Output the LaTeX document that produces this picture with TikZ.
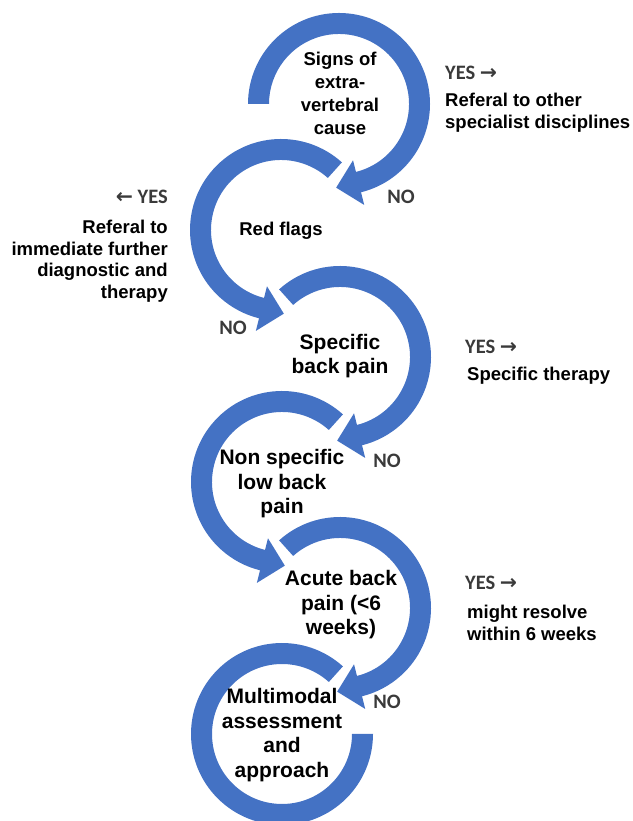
\documentclass[tikz,border=0pt]{standalone}
\usepackage{fontspec}
\setmainfont{Liberation Sans}
\newfontfamily\yesfont{Carlito}
\newfontfamily\arrowfont{DejaVu Sans}
\usetikzlibrary{calc}
\definecolor{ringblue}{HTML}{4472C4}
\definecolor{labelgray}{HTML}{3A3A3A}
% clockwise ring with arrowhead: center, start angle, end angle
\newcommand\cwring[3]{%
  \fill[ring] ($(#1)+(#2:91)$) arc[start angle=#2, end angle=#3, radius=91]
    -- ($(#1)+(#3:104)$) -- ($(#1)+(#3:80.5)+(#3-90:23)$) -- ($(#1)+(#3:58)$)
    -- ($(#1)+(#3:70)$) arc[start angle=#3, end angle=#2, radius=70] -- cycle;}
% counter-clockwise ring with arrowhead
\newcommand\ccwring[3]{%
  \fill[ring] ($(#1)+(#2:91)$) arc[start angle=#2, end angle=#3, radius=91]
    -- ($(#1)+(#3:104)$) -- ($(#1)+(#3:80.5)+(#3+90:23)$) -- ($(#1)+(#3:58)$)
    -- ($(#1)+(#3:70)$) arc[start angle=#3, end angle=#2, radius=70] -- cycle;}
\begin{document}
\begin{tikzpicture}[x=1pt,y=1pt,
  ring/.style={fill=ringblue},
  boxtext/.style={font=\bfseries\fontsize{18.5}{23}\selectfont, align=center, inner sep=0pt},
  bigtext/.style={font=\bfseries\fontsize{21}{24.5}\selectfont, align=center, inner sep=0pt},
  sidetext/.style={font=\bfseries\fontsize{18.5}{21.5}\selectfont, inner sep=0pt},
  yesno/.style={font=\yesfont\bfseries\fontsize{20.5}{22}\selectfont, text=labelgray, inner sep=0pt}]
\useasboundingbox (0,0) rectangle (632,821);
\coordinate (C1) at (339,717);
\coordinate (C2) at (281,591);
\coordinate (C3) at (340,464);
\coordinate (C4) at (282,339);
\coordinate (C5) at (340,213);
\coordinate (C6) at (282,87);
\cwring{C1}{180}{-76}
\ccwring{C2}{48}{256}
\cwring{C3}{132}{-76}
\ccwring{C4}{48}{256}
\cwring{C5}{132}{-76}
\fill[ring] ($(C6)+(48:91)$) arc[start angle=48, end angle=360, radius=91]
  -- ($(C6)+(0:70)$) arc[start angle=360, end angle=48, radius=70] -- cycle;
% circle texts
\node[boxtext] (t1) at (340,728) {Signs of\\extra-\\vertebral\\cause};
\node[boxtext] (t2) at (281,590) {Red flags};
\node[bigtext] (t3) at (340,465) {Specific\\back pain};
\node[bigtext] (t4) at (282,337) {Non specific\\low back\\pain};
\node[bigtext] (t5) at (341,216) {Acute back\\pain (<6\\weeks)};
\node[bigtext] (t6) at (282,86) {Multimodal\\assessment\\and\\approach};
% side texts
\node[yesno, anchor=west] (y1) at (445,748.5) {YES {\arrowfont →}};
\node[sidetext, anchor=north west, align=left] (r1) at (445,728) {Referal to other\\specialist disciplines};
\node[yesno, anchor=east] (y2) at (168,624) {{\arrowfont ←} YES};
\node[sidetext, anchor=north east, align=right] (r2) at (168,601) {Referal to\\immediate further\\diagnostic and\\therapy};
\node[yesno, anchor=west] (y3) at (465,474) {YES {\arrowfont →}};
\node[sidetext, anchor=north west] (r3) at (467,454) {Specific therapy};
\node[yesno, anchor=west] (y5) at (465,238) {YES {\arrowfont →}};
\node[sidetext, anchor=north west, align=left] (r5) at (467,216) {might resolve\\within 6 weeks};
% NO labels
\node[yesno] (n1) at (401,624) {NO};
\node[yesno] (n2) at (233,493) {NO};
\node[yesno] (n3) at (387,360) {NO};
\node[yesno] (n5) at (387,119) {NO};
\end{tikzpicture}
\end{document}
